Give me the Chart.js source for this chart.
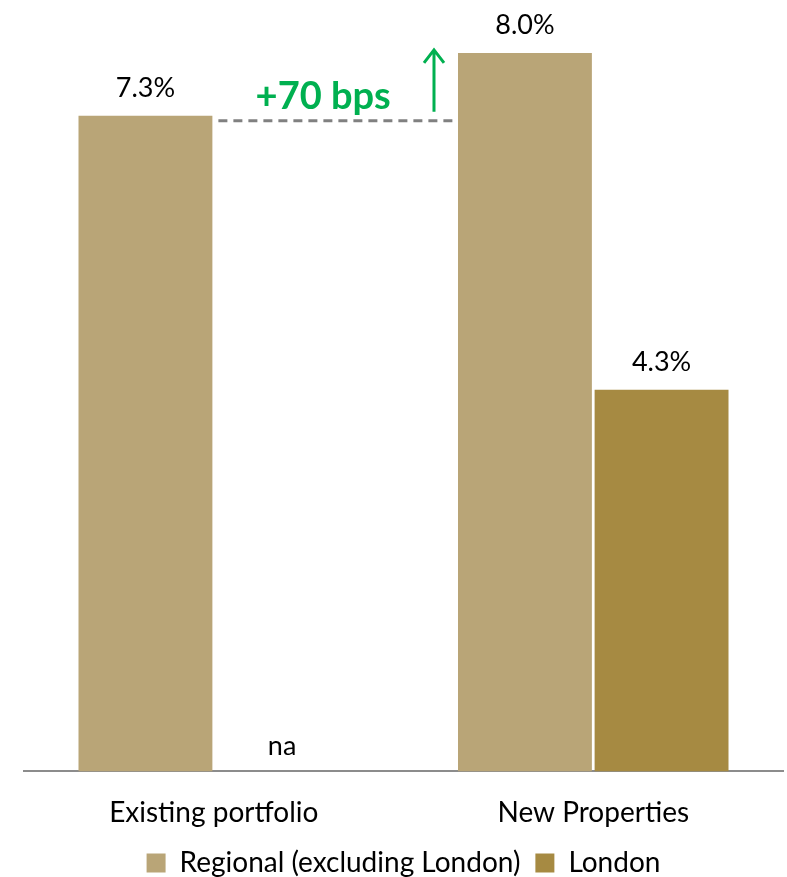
<!DOCTYPE html>
<html>
<head>
<meta charset="utf-8">
<script src="https://cdn.jsdelivr.net/npm/chart.js@4.4.1/dist/chart.umd.min.js"></script>
<style>
  html, body { margin: 0; padding: 0; background: #ffffff; overflow: hidden; }
  #wrap { width: 787px; height: 887px; position: relative; }
</style>
</head>
<body>
<div id="wrap"><canvas id="yieldChart"></canvas></div>
<script>
// chart data
const categories = ['Existing portfolio', 'New Properties'];
const regionalValues = [7.3, 8.0];
const londonValues = [null, 4.25];
const seriesNames = ['Regional (excluding London)', 'London'];
const upliftText = '+70 bps';

const FONT = 'Lato, "Open Sans", sans-serif';

// labels on top of bars, "na" for missing values
const barLabels = {
    id: 'barLabels',
    afterDatasetsDraw(chart) {
        const ctx = chart.ctx;
        const base = chart.scales.y.getPixelForValue(0);
        ctx.save();
        ctx.font = '27px ' + FONT;
        ctx.fillStyle = '#000000';
        ctx.textAlign = 'center';
        ctx.textBaseline = 'alphabetic';
        chart.data.datasets.forEach((ds, di) => {
            const meta = chart.getDatasetMeta(di);
            meta.data.forEach((bar, i) => {
                const v = ds.data[i];
                if (v === null || v === undefined) {
                    ctx.fillText('na', bar.x, base - 16);
                } else {
                    ctx.fillText(v.toFixed(1) + '%', bar.x, bar.y - 19);
                }
            });
        });
        ctx.restore();
    }
};

// dashed reference line, arrow and bps text
const upliftNote = {
    id: 'upliftNote',
    afterDatasetsDraw(chart) {
        const ctx = chart.ctx;
        const yScale = chart.scales.y;
        const regMeta = chart.getDatasetMeta(0);
        const left = regMeta.data[0];
        const right = regMeta.data[1];
        const y0 = yScale.getPixelForValue(regionalValues[0]) + 5;
        const x0 = left.x + left.width / 2 + 6;
        const x1 = right.x - right.width / 2 - 3;
        ctx.save();
        ctx.strokeStyle = '#808080';
        ctx.lineWidth = 3;
        ctx.setLineDash([9, 6]);
        ctx.beginPath();
        ctx.moveTo(x0, y0);
        ctx.lineTo(x1, y0);
        ctx.stroke();

        // arrow
        const ax = x1 - 21;
        const ay1 = yScale.getPixelForValue(regionalValues[1]);
        ctx.setLineDash([]);
        ctx.strokeStyle = '#00B050';
        ctx.lineWidth = 3;
        ctx.beginPath();
        ctx.moveTo(ax, y0 - 9);
        ctx.lineTo(ax, ay1 - 3);
        ctx.moveTo(ax - 10, ay1 + 10);
        ctx.lineTo(ax, ay1 - 3);
        ctx.lineTo(ax + 10, ay1 + 10);
        ctx.stroke();

        ctx.fillStyle = '#00B050';
        ctx.font = 'bold 38px ' + FONT;
        ctx.textAlign = 'center';
        ctx.textBaseline = 'alphabetic';
        ctx.fillText(upliftText, (x0 + ax) / 2 - 3, y0 - 12);
        ctx.restore();
    }
};

const ctx = document.getElementById('yieldChart').getContext('2d');
new Chart(ctx, {
    type: 'bar',
    data: {
        labels: categories,
        datasets: [{
            label: seriesNames[0],
            data: regionalValues,
            backgroundColor: '#B9A577',
            barPercentage: 0.98,
            categoryPercentage: 0.72
        }, {
            label: seriesNames[1],
            data: londonValues,
            backgroundColor: '#A68A42',
            barPercentage: 0.98,
            categoryPercentage: 0.72
        }]
    },
    options: {
        responsive: true,
        maintainAspectRatio: false,
        animation: false,
        layout: {
            padding: { top: 8, left: 24, right: 4, bottom: 0 }
        },
        scales: {
            x: {
                grid: { display: false, drawTicks: false },
                border: { display: true, color: '#8C8C8C', width: 2 },
                ticks: {
                    color: '#000000',
                    font: { family: FONT, size: 28 },
                    padding: 25
                },
                afterFit: (scale) => { scale.height -= 21; }
            },
            y: {
                display: false,
                min: 0,
                max: 8.5
            }
        },
        plugins: {
            legend: {
                position: 'bottom',
                labels: {
                    color: '#000000',
                    font: { family: FONT, size: 28 },
                    boxWidth: 19,
                    boxHeight: 19,
                    padding: 15
                }
            },
            tooltip: { enabled: false }
        }
    },
    plugins: [barLabels, upliftNote]
});
</script>
</body>
</html>
